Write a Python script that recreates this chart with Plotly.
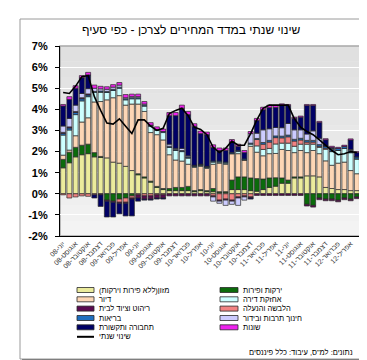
import plotly.graph_objects as go

# ---------------- data ----------------
months = [
    "יוני-08", "יולי-08", "אוגוסט-08", "ספטמבר-08", "אוקטובר-08", "נובמבר-08", "דצמבר-08",
    "ינואר-09", "פברואר-09", "מרץ-09", "אפריל-09", "מאי-09", "יוני-09", "יולי-09", "אוגוסט-09",
    "ספטמבר-09", "אוקטובר-09", "נובמבר-09", "דצמבר-09",
    "ינואר-10", "פברואר-10", "מרץ-10", "אפריל-10", "מאי-10", "יוני-10", "יולי-10", "אוגוסט-10",
    "ספטמבר-10", "אוקטובר-10", "נובמבר-10", "דצמבר-10",
    "ינואר-11", "פברואר-11", "מרץ-11", "אפריל-11", "מאי-11", "יוני-11", "יולי-11", "אוגוסט-11",
    "ספטמבר-11", "אוקטובר-11", "נובמבר-11", "דצמבר-11",
    "ינואר-12", "פברואר-12", "מרץ-12", "אפריל-12", "מאי-12",
]

food = [1.23, 1.47, 1.75, 1.85, 1.90, 1.75, 1.72, 1.70, 1.50, 1.45,
        1.30, 1.10, 0.90, 0.75, 0.55, 0.30, 0.20, 0.15, 0.15, 0.15,
        0.15, 0.10, 0.15, 0.10, 0.10, 0.05, 0.05, 0.20, 0.20, 0.20,
        0.15, 0.12, 0.20, 0.30, 0.36, 0.50, 0.50, 0.75, 0.75, 0.85,
        0.85, 0.80, 0.30, 0.25, 0.20, 0.20, 0.15, 0.15]
veg = [0.40, 0.50, 0.45, 0.45, 0.45, 0.20, 0.05, -0.30, -0.35, -0.25,
       -0.20, -0.10, 0.05, 0.05, 0.05, 0.05, 0.05, 0.10, 0.15, 0.15,
       0.20, 0.05, 0.05, 0.05, 0.15, 0.05, 0.05, 0.45, 0.60, 0.60,
       0.60, 0.60, 0.50, 0.45, 0.40, 0.25, 0.15, 0.05, 0.05, -0.50,
       -0.55, -0.20, -0.25, -0.25, -0.30, -0.20, -0.25, -0.15]
housing = [0.20, 0.10, 0.55, 1.10, 1.25, 2.40, 2.60, 2.75, 3.05, 3.20,
           2.90, 3.15, 3.30, 3.10, 2.30, 2.45, 2.30, 1.60, 1.30, 1.25,
           1.05, 1.10, 1.10, 1.05, 1.15, 1.35, 1.30, 1.25, 1.10, 0.80,
           1.50, 1.25, 1.10, 1.15, 1.15, 1.35, 1.40, 1.15, 1.25, 1.10,
           1.20, 1.10, 1.26, 1.10, 1.25, 1.30, 0.95, 0.80]
maint = [0.95, 0.95, 1.00, 1.00, 1.00, 0.45, 0.45, 0.35, 0.35, 0.35,
         0.25, 0.25, 0.25, 0.25, 0.30, 0.20, 0.35, 0.35, 0.45, 0.45,
         0.30, 0.05, 0.05, 0.05, 0.10, 0.05, 0.05, 0.00, 0.10, 0.00,
         0.10, 0.30, 0.30, 0.25, 0.45, 0.30, 0.35, 0.30, 0.30, 0.40,
         0.30, 0.30, 0.55, 0.65, 0.60, 0.65, 0.85, 0.70]
clothing = [-0.05, -0.20, -0.15, -0.10, -0.12, -0.05, 0.00, 0.00, 0.00, -0.15,
            -0.20, -0.10, -0.05, -0.10, -0.10, -0.05, -0.05, 0.00, 0.00, 0.00,
            0.00, 0.00, 0.00, 0.00, -0.10, -0.30, -0.25, -0.30, -0.15, -0.10,
            -0.15, 0.30, 0.25, 0.30, 0.30, 0.25, 0.30, 0.25, 0.20, 0.10,
            0.10, 0.05, 0.05, 0.00, 0.00, 0.00, 0.00, 0.00]
health = [0.08, 0.10, 0.10, 0.10, 0.08, 0.05, 0.05, 0.05, 0.05, 0.05,
          0.05, 0.05, 0.05, 0.05, 0.05, 0.05, 0.05, 0.05, 0.05, 0.05,
          0.05, 0.05, 0.05, 0.05, 0.05, 0.05, 0.05, 0.05, 0.05, 0.05,
          0.05, 0.05, 0.08, 0.08, 0.08, 0.08, 0.08, 0.08, 0.08, 0.08,
          0.08, 0.08, 0.10, 0.10, 0.10, 0.10, 0.10, 0.10]
furniture = [0.05, 0.05, 0.05, 0.05, 0.05, 0.00, -0.05, -0.05, -0.05, -0.05,
             -0.05, -0.05, -0.15, -0.15, -0.15, -0.15, -0.15, -0.10, -0.10, -0.10,
             -0.10, -0.10, -0.10, -0.10, -0.05, -0.05, -0.05, -0.05, -0.05, -0.05,
             -0.05, -0.08, -0.08, -0.08, -0.08, -0.08, -0.08, -0.08, -0.08, -0.08,
             -0.08, -0.08, -0.08, -0.08, -0.08, -0.08, -0.08, -0.08]
culture = [0.30, 0.40, 0.30, 0.20, 0.25, 0.15, 0.10, 0.10, 0.10, 0.10,
           0.05, 0.05, 0.05, 0.05, 0.00, 0.00, 0.00, 0.10, 0.05, 0.10,
           0.05, 0.00, 0.00, 0.00, -0.20, -0.10, -0.25, -0.15, -0.35, -0.15,
           0.45, 0.25, 0.60, 0.55, 0.40, 0.40, 0.55, 0.45, 0.40, 0.30,
           0.45, 0.30, 0.00, 0.05, 0.00, 0.00, 0.05, 0.00]
transport = [0.95, 0.90, 0.80, 0.75, 0.65, -0.15, -0.55, -0.75, -0.70, -0.50,
             -0.60, -0.80, -0.15, -0.05, -0.05, -0.05, -0.05, 1.35, 1.55, 1.90,
             1.95, 1.85, 1.45, 1.50, 0.65, 0.50, 0.55, 0.50, 0.20, 0.30,
             -0.05, 0.60, 0.95, 1.00, 0.95, 1.05, 0.85, 0.55, 0.60, 1.35,
             1.20, 0.75, 0.30, 0.05, 0.00, 0.00, 0.45, 0.20]
misc = [0.07, 0.13, 0.12, 0.10, 0.12, 0.15, 0.12, 0.12, 0.12, 0.12,
        0.15, 0.12, 0.12, 0.12, 0.12, 0.12, 0.12, 0.15, 0.15, 0.15,
        0.15, 0.12, 0.12, 0.12, 0.12, 0.12, 0.12, 0.12, 0.10, 0.10,
        0.10, 0.10, 0.12, 0.12, 0.10, 0.08, 0.05, 0.05, 0.05, 0.05,
        0.05, 0.05, 0.05, 0.05, 0.05, 0.05, 0.05, 0.05]
annual = [4.80, 4.75, 5.10, 5.55, 5.60, 4.60, 3.95, 3.35, 3.30, 3.55,
          3.20, 2.85, 3.50, 3.50, 3.20, 3.00, 3.10, 3.80, 3.95, 4.05,
          3.70, 3.15, 3.05, 2.80, 2.20, 1.95, 2.15, 2.50, 2.30, 2.30,
          2.85, 3.50, 4.05, 4.20, 4.20, 4.20, 4.20, 3.55, 3.15, 2.95,
          2.80, 2.55, 2.30, 2.05, 1.85, 1.90, 2.00, 1.95]

y_ticks = [-2, -1, 0, 1, 2, 3, 4, 5, 6, 7]
y_tick_labels = ["-2%", "-1%", "0%", "1%", "2%", "3%", "4%", "5%", "6%", "7%"]

title_text = "שינוי שנתי במדד המחירים לצרכן - כפי סעיף"
source_text = 'נתונים: למ"ס, עיבוד: כלל פיננסים'
line_name = "שינוי שנתי"

# name, values, colour  (stack order bottom -> top)
series = [
    ("מזון(ללא פירות וירקות)", food, "#EBEB9C"),
    ("ירקות ופירות", veg, "#0B6B0B"),
    ("דיור", housing, "#FDD6B5"),
    ("אחזקת דירה", maint, "#CCFFFF"),
    ("הלבשה והנעלה", clothing, "#F28282"),
    ("בריאות", health, "#1F6FBF"),
    ("ריהוט וציוד לבית", furniture, "#5A0A50"),
    ("חינוך תרבות ובידור", culture, "#CCCCFF"),
    ("תחבורה ותקשורת", transport, "#000066"),
    ("שונות", misc, "#EE22EE"),
]

FONT = "Liberation Sans, Arial, DejaVu Sans, sans-serif"

fig = go.Figure()
for name, vals, color in series:
    fig.add_bar(x=months, y=vals, name=name, showlegend=False, hoverinfo="skip",
                marker=dict(color=color, line=dict(color="#2a2a2a", width=0.7)))
fig.add_scatter(x=months, y=annual, name=line_name, mode="lines", showlegend=False,
                hoverinfo="skip", line=dict(color="black", width=1.6))

# pixel -> paper helpers
L, T, W, H = 52, 38, 300, 190
def px(x):
    return (x - L) / W
def py(y):
    return (T + H - y) / H

shapes = []
annotations = []

# plot-area soft vertical gradient (background decoration)
n_bands = 12
for k in range(n_bands):
    g = int(0xE0 + (0xF3 - 0xE0) * k / (n_bands - 1))
    shapes.append(dict(type="rect", xref="paper", yref="paper", x0=0, x1=1,
                       y0=1 - (k + 1) / n_bands, y1=1 - k / n_bands,
                       fillcolor="rgb(%d,%d,%d)" % (g, g, g), line=dict(width=0), layer="below"))
# plot-area frame
shapes.append(dict(type="rect", xref="paper", yref="paper", x0=0, x1=1, y0=0, y1=1,
                   line=dict(color="#A8A8A8", width=1.5), layer="below"))
# outer chart frame + shadow
shapes.append(dict(type="rect", xref="paper", yref="paper", x0=px(12), x1=px(358),
                   y0=py(351), y1=py(11), line=dict(color="#9A9A9A", width=1)))
shapes.append(dict(type="line", xref="paper", yref="paper", x0=px(359.5), x1=px(359.5),
                   y0=py(13), y1=py(354), line=dict(color="#7F7F7F", width=3)))
shapes.append(dict(type="line", xref="paper", yref="paper", x0=px(14), x1=px(361),
                   y0=py(352.5), y1=py(352.5), line=dict(color="#7F7F7F", width=3)))

# title
annotations.append(dict(text=title_text, xref="paper", yref="paper", x=px(183), y=py(22),
                        xanchor="center", yanchor="middle", showarrow=False,
                        font=dict(family=FONT, size=12, color="black")))
# source
annotations.append(dict(text=source_text, xref="paper", yref="paper", x=px(347), y=py(344),
                        xanchor="right", yanchor="middle", showarrow=False,
                        font=dict(family=FONT, size=7.5, color="black")))

# manual legend
rows = [282, 291.3, 300.6, 310, 319.3, 328.8]
left_items = [series[0], series[2], series[6], series[5], series[8]]
right_items = [series[1], series[3], series[4], series[7], series[9]]
for col_items, sx0, sx1, tx in [(left_items, 69, 86, 89), (right_items, 212, 230, 233)]:
    for (name, _, color), ry in zip(col_items, rows):
        shapes.append(dict(type="rect", xref="paper", yref="paper", x0=px(sx0), x1=px(sx1),
                           y0=py(ry + 2.5), y1=py(ry - 2.5), fillcolor=color,
                           line=dict(color="#2a2a2a", width=0.8)))
        annotations.append(dict(text=name, xref="paper", yref="paper", x=px(tx), y=py(ry),
                                xanchor="left", yanchor="middle", showarrow=False,
                                font=dict(family=FONT, size=7.5, color="black")))
shapes.append(dict(type="line", xref="paper", yref="paper", x0=px(69), x1=px(86),
                   y0=py(rows[5]), y1=py(rows[5]), line=dict(color="black", width=2)))
annotations.append(dict(text=line_name, xref="paper", yref="paper", x=px(89), y=py(rows[5]),
                        xanchor="left", yanchor="middle", showarrow=False,
                        font=dict(family=FONT, size=7.5, color="black")))

fig.update_layout(
    template="none",
    width=367, height=360,
    margin=dict(l=L, r=367 - L - W, t=T, b=360 - T - H, pad=0),
    paper_bgcolor="white", plot_bgcolor="#EAEAEA",
    barmode="relative", bargap=0.2,
    font=dict(family=FONT, color="black"),
    shapes=shapes, annotations=annotations,
    showlegend=False,
    xaxis=dict(type="category", categoryorder="array", categoryarray=months,
               tickmode="array", tickvals=months[::2], ticktext=months[::2],
               tickangle=-45, tickfont=dict(family=FONT, size=7, color="#333333"),
               showline=True, linecolor="black", linewidth=1, showgrid=False,
               ticks="", zeroline=False, automargin=False, range=[-0.5, 47.5]),
    yaxis=dict(range=[-2, 7], tickmode="array", tickvals=y_ticks, ticktext=y_tick_labels,
               tickfont=dict(family=FONT, size=11, color="black", weight="bold"),
               showline=True, linecolor="black", linewidth=1.2,
               ticks="outside", ticklen=4, tickcolor="black", tickwidth=1,
               ticklabelstandoff=5,
               showgrid=True, gridcolor="white", gridwidth=1, zeroline=False,
               automargin=False),
)

fig.write_html("out.html")
